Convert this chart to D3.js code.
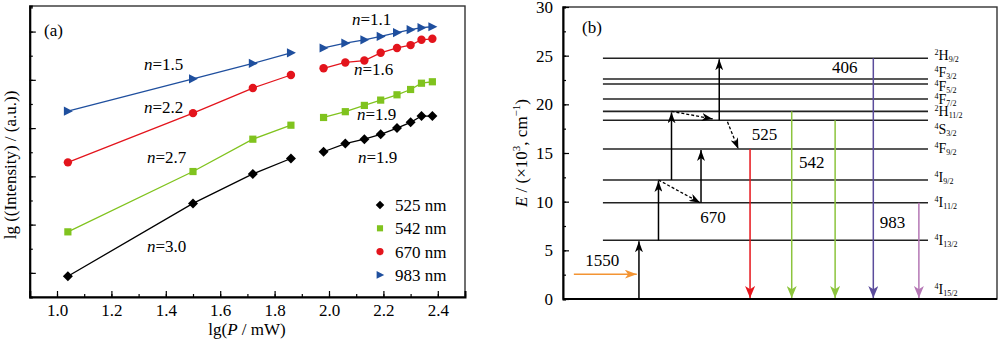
<!DOCTYPE html>
<html><head><meta charset="utf-8">
<script src="https://cdn.jsdelivr.net/npm/d3@7"></script>
<style>
body{margin:0;background:#fff}
svg text{font-family:"Liberation Serif","DejaVu Serif","Times New Roman",serif;fill:#000}
</style>
</head><body>
<svg id="c" width="1000" height="346" font-family="Liberation Serif, DejaVu Serif, serif"></svg>
<script>
// ---------------- DATA: panel (a) ----------------
const xLow  = [1.04, 1.50, 1.72, 1.86];
const xHigh = [1.98, 2.06, 2.13, 2.19, 2.25, 2.30, 2.34, 2.38];
const i525Low  = [2.93, 4.44, 5.05, 5.37];
const i525High = [5.51, 5.68, 5.77, 5.87, 6.00, 6.12, 6.25, 6.25];
const i542Low  = [3.85, 5.10, 5.77, 6.06];
const i542High = [6.22, 6.34, 6.47, 6.58, 6.69, 6.80, 6.93, 6.96];
const i670Low  = [5.29, 6.31, 6.83, 7.10];
const i670High = [7.24, 7.36, 7.40, 7.56, 7.66, 7.72, 7.83, 7.85];
const i983Low  = [6.35, 7.02, 7.34, 7.56];
const i983High = [7.66, 7.76, 7.83, 7.90, 7.98, 8.04, 8.08, 8.10];
const seriesNames = ["525 nm", "542 nm", "670 nm", "983 nm"];
const slopeLow  = ["3.0", "2.7", "2.2", "1.5"];
const slopeHigh = ["1.9", "1.9", "1.6", "1.1"];
const xTicksA = [1.0, 1.2, 1.4, 1.6, 1.8, 2.0, 2.2, 2.4];

// ---------------- DATA: panel (b) ----------------
const levelNames = ["4I15/2","4I13/2","4I11/2","4I9/2","4F9/2","4S3/2","2H11/2","4F7/2","4F5/2","4F3/2","2H9/2"];
const levelE     = [0, 6.03, 9.89, 12.23, 15.41, 18.36, 19.28, 20.55, 22.09, 22.60, 24.73];
const yTicksB = [0, 5, 10, 15, 20, 25, 30];
// transitions: [x, fromE, toE]
const excitations = [[17.5, 0, 6.03], [22.0, 6.03, 12.23], [31.8, 9.89, 15.41], [25.0, 12.23, 19.28], [36.0, 18.36, 24.73]];
// nonradiative: [x1, E1, x2, E2]
const relaxations = [[22.0, 12.23, 31.6, 9.89], [25.0, 19.28, 34.5, 18.5], [37.9, 18.2, 40.4, 15.41]];
const emissionNames = ["670", "525", "542", "406", "983"];
const emissionFrom  = [15.41, 19.28, 18.36, 24.73, 9.89];
const emissionX     = [43.1, 52.7, 62.7, 71.5, 82.0];
const pumpName = "1550";
const pumpE = 2.55;

// ---------------- LAYOUT ----------------
const FONT = "Liberation Serif, DejaVu Serif, serif";
const svg = d3.select("#c");
const colors = ["#000000", "#80c31e", "#e3141c", "#1f4f9e"];
const emColors = ["#e6141b", "#8cc43c", "#8cc43c", "#5b4c9c", "#b577b5"];

// ===== Panel (a) =====
const xA = d3.scaleLinear().domain([0.9, 2.5]).range([29.8, 465]);
const yA = d3.scaleLinear().domain([2.5, 8.53]).range([297, 6]);
const gA = svg.append("g");

gA.append("rect").attr("x", 29.8).attr("y", 6).attr("width", 465 - 29.8).attr("height", 291)
  .attr("fill", "none").attr("stroke", "#333").attr("stroke-width", 1.4);

const xMinor = d3.range(0.9, 2.55, 0.1).map(v => +v.toFixed(1));
gA.append("g").attr("transform", "translate(0,297)")
  .call(d3.axisBottom(xA).tickValues(xMinor).tickSize(-3).tickFormat(""))
  .call(g => g.select(".domain").remove());
gA.append("g").attr("transform", "translate(0,297)")
  .call(d3.axisBottom(xA).tickValues(xTicksA).tickSize(-6).tickPadding(7).tickFormat(d3.format(".1f")))
  .attr("font-family", FONT)
  .call(g => g.select(".domain").attr("stroke-width", 2))
  .call(g => g.selectAll("text").attr("font-size", 17).attr("font-family", FONT).attr("dy", "0.71em"));
gA.append("g").attr("transform", "translate(29.8,0)")
  .call(d3.axisLeft(yA).tickValues(d3.range(3, 8.6, 0.5)).tickSize(-3).tickFormat(""))
  .call(g => g.select(".domain").attr("stroke-width", 2));
gA.append("g").attr("transform", "translate(29.8,0)")
  .call(d3.axisLeft(yA).tickValues([3,4,5,6,7,8]).tickSize(-6).tickFormat(""))
  .call(g => g.select(".domain").remove());
gA.selectAll(".tick line").attr("stroke-width", 1.2);

const lowSets = [i525Low, i542Low, i670Low, i983Low];
const highSets = [i525High, i542High, i670High, i983High];
const line = d3.line().x(d => xA(d[0])).y(d => yA(d[1]));

function marker(g, k, cx, cy, s) {
  const c = colors[k];
  if (k === 0) g.append("path").attr("d", `M${cx-s*5},${cy}L${cx},${cy-s*5}L${cx+s*5},${cy}L${cx},${cy+s*5}Z`).attr("fill", c);
  else if (k === 1) g.append("rect").attr("x", cx - s*3.6).attr("y", cy - s*3.6).attr("width", s*7.2).attr("height", s*7.2).attr("fill", c);
  else if (k === 2) g.append("circle").attr("cx", cx).attr("cy", cy).attr("r", s*4.2).attr("fill", c);
  else g.append("path").attr("d", `M${cx-s*4},${cy-s*4.6}L${cx+s*5},${cy}L${cx-s*4},${cy+s*4.6}Z`).attr("fill", c);
}

[0,1,2,3].forEach(k => {
  [[xLow, lowSets[k]], [xHigh, highSets[k]]].forEach(([xs, ys]) => {
    const pts = xs.map((x, i) => [x, ys[i]]);
    gA.append("path").attr("d", line(pts)).attr("fill", "none").attr("stroke", colors[k]).attr("stroke-width", 1.3);
    pts.forEach(p => marker(gA, k, xA(p[0]), yA(p[1]), 1));
  });
});

function txt(g, x, y, size) {
  return g.append("text").attr("x", x).attr("y", y).attr("font-size", size).attr("font-family", FONT);
}
// slope labels
function nLabel(g, x, y, val) {
  const t = txt(g, x, y, 17);
  t.append("tspan").attr("font-style", "italic").text("n");
  t.append("tspan").text("=" + val);
}
const lowLabelPos  = [[147, 252], [147, 163], [144, 113], [144, 70]];
const highLabelPos = [[358, 163], [357, 120], [354, 75], [352, 25]];
[0,1,2,3].forEach(k => {
  nLabel(gA, lowLabelPos[k][0], lowLabelPos[k][1], slopeLow[k]);
  nLabel(gA, highLabelPos[k][0], highLabelPos[k][1], slopeHigh[k]);
});

txt(gA, 44, 36, 17).text("(a)");

// legend
seriesNames.forEach((name, k) => {
  const cy = 205 + k * 23.3;
  marker(gA, k, 380, cy, 0.85);
  txt(gA, 395, cy + 6, 17).text(name);
});

// axis titles
const xt = txt(gA, 247, 335, 17).attr("text-anchor", "middle");
xt.append("tspan").text("lg(");
xt.append("tspan").attr("font-style", "italic").text("P");
xt.append("tspan").text(" / mW)");
gA.append("text").attr("transform", "translate(16,165) rotate(-90)").attr("text-anchor", "middle")
  .attr("font-family", FONT).attr("font-size", 17).text("lg ((Intensity) / (a.u.))");

// ===== Panel (b) =====
const xB = d3.scaleLinear().domain([0, 100]).range([563, 997]);
const yB = d3.scaleLinear().domain([0, 30]).range([299, 7]);
const gB = svg.append("g");
gB.append("rect").attr("x", 563).attr("y", 7).attr("width", 997 - 563).attr("height", 292)
  .attr("fill", "none").attr("stroke", "#333").attr("stroke-width", 1.4);
gB.append("g").attr("transform", "translate(563,0)")
  .call(d3.axisLeft(yB).tickValues(d3.range(0, 30.1, 2.5)).tickSize(-3).tickFormat(""))
  .call(g => g.select(".domain").attr("stroke-width", 2));
gB.append("g").attr("transform", "translate(563,0)")
  .call(d3.axisLeft(yB).tickValues(yTicksB).tickSize(-6).tickPadding(10).tickFormat(d3.format("d")))
  .attr("font-family", FONT)
  .call(g => g.select(".domain").remove())
  .call(g => g.selectAll("text").attr("font-size", 17).attr("font-family", FONT));
gB.append("line").attr("x1", 563).attr("x2", 997).attr("y1", 299).attr("y2", 299).attr("stroke", "#000").attr("stroke-width", 2);
gB.selectAll(".tick line").attr("stroke-width", 1.2);

// arrow markers
const defs = svg.append("defs");
function mkMarker(id, color, w, l) {
  defs.append("marker").attr("id", id).attr("markerUnits", "userSpaceOnUse")
    .attr("viewBox", `${-l} ${-w/2} ${l} ${w}`).attr("refX", 0).attr("refY", 0)
    .attr("markerWidth", l).attr("markerHeight", w).attr("orient", "auto")
    .append("path").attr("d", `M0,0L${-l},${-w/2}L${-l*0.72},0L${-l},${w/2}Z`).attr("fill", color);
}
mkMarker("ahK", "#000", 8, 11);
emColors.forEach((c, i) => mkMarker("ahE" + i, c, 10, 12));
mkMarker("ahO", "#f39433", 9, 12);

// levels
const levelX0 = 9.2, levelX1 = 84.1;
levelE.forEach((e, i) => {
  if (i === 0) return;
  gB.append("line").attr("x1", xB(levelX0)).attr("x2", xB(levelX1)).attr("y1", yB(e)).attr("y2", yB(e))
    .attr("stroke", "#222").attr("stroke-width", 1.6);
});
// level labels (vertical label anchors in energy units, spread to avoid overlap)
const levelLabelE = [1.03, 6.06, 9.96, 12.53, 15.51, 17.47, 19.27, 20.58, 21.85, 23.30, 25.07];
levelNames.forEach((n, i) => {
  const t = txt(gB, xB(85.6), yB(levelLabelE[i]) + 5, 14);
  t.append("tspan").attr("font-size", 8).attr("dy", -5).text(n[0]);
  t.append("tspan").attr("dy", 5).text(n[1]);
  t.append("tspan").attr("font-size", 8).attr("dy", 2).text(n.slice(2));
});

// excitation arrows
excitations.forEach(([x, e0, e1]) => {
  gB.append("line").attr("x1", xB(x)).attr("x2", xB(x)).attr("y1", yB(e0)).attr("y2", yB(e1) + 1)
    .attr("stroke", "#000").attr("stroke-width", 1.5).attr("marker-end", "url(#ahK)");
});
relaxations.forEach(([x1, e1, x2, e2]) => {
  gB.append("line").attr("x1", xB(x1)).attr("x2", xB(x2)).attr("y1", yB(e1)).attr("y2", yB(e2))
    .attr("stroke", "#000").attr("stroke-width", 1.3).attr("stroke-dasharray", "3,2").attr("marker-end", "url(#ahK)");
});
// emissions
emissionX.forEach((x, i) => {
  gB.append("line").attr("x1", xB(x)).attr("x2", xB(x)).attr("y1", yB(emissionFrom[i])).attr("y2", yB(0) - 1)
    .attr("stroke", emColors[i]).attr("stroke-width", 1.5).attr("marker-end", `url(#ahE${i})`);
});
// pump
gB.append("line").attr("x1", xB(2.5)).attr("x2", xB(17.0)).attr("y1", yB(pumpE)).attr("y2", yB(pumpE))
  .attr("stroke", "#f39433").attr("stroke-width", 1.5).attr("marker-end", "url(#ahO)");

// wavelength labels
const waveLabelPos = [[31.6, 7.8], [43.5, 16.3], [54.4, 13.5], [62.0, 23.2], [73.0, 7.3]];
emissionNames.forEach((n, i) => {
  txt(gB, xB(waveLabelPos[i][0]), yB(waveLabelPos[i][1]), 17).text(n);
});
txt(gB, xB(5.1), yB(3.39), 17).text(pumpName);
txt(gB, 582, 33, 17).text("(b)");

// y title
const yt = gB.append("text").attr("transform", "translate(527,153) rotate(-90)").attr("text-anchor", "middle")
  .attr("font-family", FONT).attr("font-size", 17);
yt.append("tspan").attr("font-style", "italic").text("E");
yt.append("tspan").text(" / (×10");
yt.append("tspan").attr("font-size", 11).attr("dy", -7).text("3");
yt.append("tspan").attr("dy", 7).text(", cm");
yt.append("tspan").attr("font-size", 11).attr("dy", -7).text("−1");
yt.append("tspan").attr("dy", 7).text(")");
</script>
</body></html>
